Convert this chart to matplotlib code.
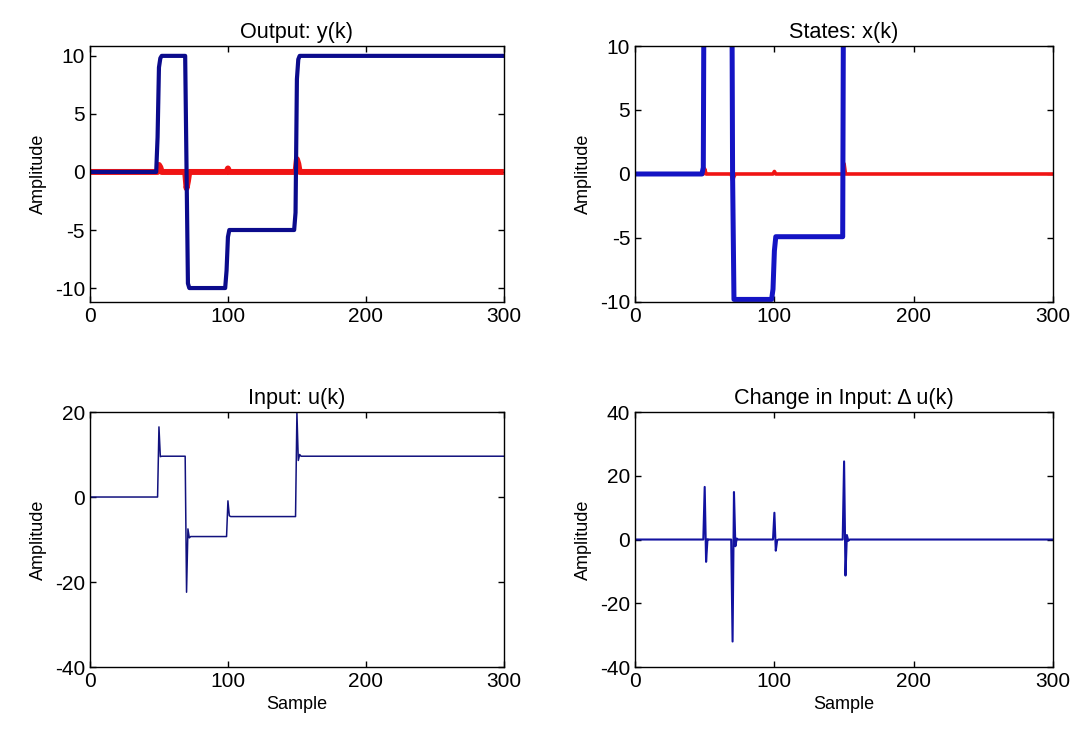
import numpy as np
import matplotlib
matplotlib.use("Agg")
import matplotlib.pyplot as plt

# Sample axis
N_SAMPLES = 300

# Output y(k): step levels of the blue output, transitions
y1_starts = [0, 50, 70, 100, 150]
y1_levels = [0.0, 10.0, -10.0, -5.0, 10.0]
y1_trans = {49: 3.0, 50: 9.0, 51: 9.8, 70: 0.5, 71: -9.6,
            99: -8.5, 100: -5.6, 149: -3.5, 150: 8.0, 151: 9.7}
# red output stays at zero with small bumps
y2_starts = [0]
y2_levels = [0.0]
y2_trans = {50: 0.6, 51: 0.4, 70: -1.4, 71: -0.8, 100: 0.3, 150: 1.1, 151: 0.7}

# States x(k)
x1_starts = [0, 50, 70, 100, 150]
x1_levels = [0.0, 30.0, -9.8, -4.9, 30.0]
x1_trans = {49: 0.5, 70: 0.0, 71: -9.8, 99: -9.0, 100: -6.0}
x2_starts = [0]
x2_levels = [0.0]
x2_trans = {50: 0.4, 70: -0.5, 71: -0.2, 100: 0.2, 150: 0.8}

# Input u(k)
u_starts = [0, 50, 70, 100, 150]
u_levels = [0.0, 9.6, -9.3, -4.6, 9.6]
u_trans = {50: 16.5, 51: 9.5, 70: -22.4, 71: -7.5, 72: -9.6,
           100: -0.9, 101: -4.4, 150: 19.9, 151: 8.6, 152: 10.0}

x_ticks = [0, 100, 200, 300]


def build(starts, levels, trans):
    k = np.arange(N_SAMPLES + 1)
    v = np.zeros(len(k))
    for s, lv in zip(starts, levels):
        v[k >= s] = lv
    for kk, val in trans.items():
        v[kk] = val
    return k, v


plt.rcParams['font.family'] = ['Liberation Sans', 'DejaVu Sans']
plt.rcParams['font.size'] = 13
plt.rcParams['axes.unicode_minus'] = False

fig = plt.figure(figsize=(10.75, 7.36), dpi=100, facecolor='white')
ax1 = fig.add_axes([0.0837, 0.5897, 0.385, 0.3478])
ax2 = fig.add_axes([0.5907, 0.5897, 0.389, 0.3478])
ax3 = fig.add_axes([0.0837, 0.0937, 0.385, 0.3465])
ax4 = fig.add_axes([0.5907, 0.0937, 0.389, 0.3465])

k, y1 = build(y1_starts, y1_levels, y1_trans)
_, y2 = build(y2_starts, y2_levels, y2_trans)
_, x1 = build(x1_starts, x1_levels, x1_trans)
_, x2 = build(x2_starts, x2_levels, x2_trans)
_, u = build(u_starts, u_levels, u_trans)
du = np.diff(u, prepend=u[0])

ax1.plot(k, y2, color='#f01414', lw=4.3, solid_capstyle='butt')
ax1.plot(k, y1, color='#0b0b8c', lw=3.0)
ax1.set_ylim(-11.2, 10.85)
ax1.set_yticks([-10, -5, 0, 5, 10])
ax1.set_title('Output: y(k)', pad=6)

ax2.plot(k, x2, color='#f01414', lw=2.6)
ax2.plot(k, x1, color='#1414c4', lw=3.6)
ax2.set_ylim(-10, 10)
ax2.set_yticks([-10, -5, 0, 5, 10])
ax2.set_title('States: x(k)', pad=6)

ax3.plot(k, u, color='#12127e', lw=1.1)
ax3.set_ylim(-40, 20)
ax3.set_yticks([-40, -20, 0, 20])
ax3.set_title('Input: u(k)', pad=6)
ax3.set_xlabel('Sample')

ax4.plot(k, du, color='#1212a0', lw=1.5)
ax4.set_ylim(-40, 40)
ax4.set_yticks([-40, -20, 0, 20, 40])
ax4.set_title('Change in Input: \u0394 u(k)', pad=6)
ax4.set_xlabel('Sample')

for ax in (ax1, ax2, ax3, ax4):
    ax.set_xlim(0, N_SAMPLES)
    ax.set_xticks(x_ticks)
    ax.set_ylabel('Amplitude', labelpad=6)
    ax.tick_params(direction='in', top=True, right=True, length=4, width=1,
                   labelsize=15)
    for sp in ax.spines.values():
        sp.set_linewidth(1.0)

fig.savefig('out.png', dpi=100, facecolor='white')
